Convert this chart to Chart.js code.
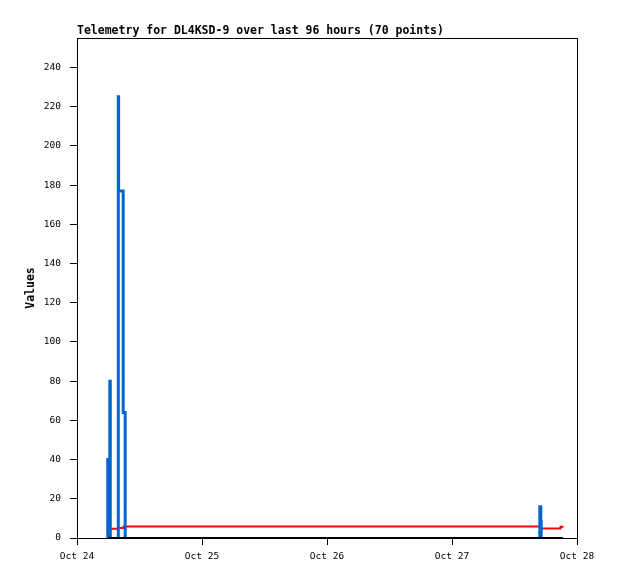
<!DOCTYPE html>
<html>
<head>
<meta charset="utf-8">
<script src="https://cdn.jsdelivr.net/npm/chart.js@4.4.1/dist/chart.umd.min.js"></script>
<style>
  html, body { margin: 0; padding: 0; background: #fff; }
  #wrap { width: 618px; height: 579px; }
</style>
</head>
<body>
<div id="wrap"><canvas id="telemetryChart" width="618" height="579"></canvas></div>
<script>
// Telemetry for DL4KSD-9 - x is hours since Oct 24 00:00

const xTickHours = [0, 24, 48, 72, 96];
const xTickLabels = ['Oct 24', 'Oct 25', 'Oct 26', 'Oct 27', 'Oct 28'];
const yTickValues = [0, 20, 40, 60, 80, 100, 120, 140, 160, 180, 200, 220, 240];

// blue channel (null = gap between bursts)
const blueHours = [5.86, 5.91, 6.30, 6.39, 6.39, 7.83, 7.93, 7.99, 8.87, 9.25, 9.25, 88.80, 88.86, 89.05, 89.13];
const blueValues = [0, 40, 80, 0, null, 0, 225, 177, 64, 0, null, 0, 16, 8, 0];

// red channel
const redHours = [5.95, 7.93, 8.93, 88.99, 92.83, 93.41];
const redValues = [4.75, 5.1, 5.9, 4.8, 5.7, 5.7];

// black channel
const blackHours = [5.95, 93.31];
const blackValues = [0, 0];

const monoFont = "'DejaVu Sans Mono', 'Liberation Mono', monospace";

function toPoints(hours, values) {
    return hours.map((h, i) => ({ x: h, y: values[i] }));
}

const ctx = document.getElementById('telemetryChart').getContext('2d');

new Chart(ctx, {
    type: 'line',
    data: {
        datasets: [
            {
                label: 'black',
                data: toPoints(blackHours, blackValues),
                borderColor: '#000000',
                borderWidth: 2,
                pointRadius: 0,
                stepped: true,
                clip: 4,
                order: 0
            },
            {
                label: 'blue',
                data: toPoints(blueHours, blueValues),
                borderColor: '#0066cc',
                borderWidth: 3,
                pointRadius: 0,
                stepped: true,
                spanGaps: false,
                order: 1
            },
            {
                label: 'red',
                data: toPoints(redHours, redValues),
                borderColor: '#ff0000',
                borderWidth: 2,
                pointRadius: 0,
                stepped: true,
                order: 2
            }
        ]
    },
    options: {
        responsive: false,
        animation: false,
        layout: { padding: 0 },
        plugins: {
            legend: { display: false },
            tooltip: { enabled: false },
            title: {
                display: true,
                text: 'Telemetry for DL4KSD-9 over last 96 hours (70 points)',
                align: 'start',
                fullSize: false,
                color: '#000',
                font: { family: monoFont, size: 11.5, weight: 'bold', lineHeight: 1.2 },
                padding: { top: 24, bottom: 0.2 }
            }
        },
        scales: {
            x: {
                type: 'linear',
                position: 'bottom',
                min: 0,
                max: 96,
                afterBuildTicks: s => { s.ticks = xTickHours.map(v => ({ value: v })); },
                afterFit: s => { s.height = 41; },
                ticks: {
                    callback: v => xTickLabels[xTickHours.indexOf(v)],
                    color: '#000',
                    font: { family: monoFont, size: 9.5 },
                    padding: 6,
                    maxRotation: 0,
                    autoSkip: false
                },
                grid: { drawOnChartArea: false, tickLength: 7, tickColor: '#000' },
                border: { color: '#000', width: 1 }
            },
            x2: {
                type: 'linear',
                position: 'top',
                min: 0,
                max: 96,
                afterFit: s => { s.height = 0; },
                ticks: { display: false },
                grid: { drawOnChartArea: false, drawTicks: false },
                border: { color: '#000', width: 1 }
            },
            y: {
                type: 'linear',
                position: 'left',
                min: 0,
                max: 255,
                afterBuildTicks: s => { s.ticks = yTickValues.map(v => ({ value: v })); },
                afterFit: s => { s.width = 77; },
                ticks: {
                    color: '#000',
                    font: { family: monoFont, size: 9.5 },
                    padding: 9
                },
                grid: { drawOnChartArea: false, tickLength: 7, tickColor: '#000' },
                border: { color: '#000', width: 1 },
                title: {
                    display: true,
                    text: 'Values',
                    color: '#000',
                    font: { family: monoFont, size: 11.5, weight: 'bold', lineHeight: 1.2 },
                    padding: { top: 24, bottom: 0 }
                }
            },
            y2: {
                type: 'linear',
                position: 'right',
                min: 0,
                max: 255,
                afterFit: s => { s.width = 41; },
                ticks: { display: false },
                grid: { drawOnChartArea: false, drawTicks: false },
                border: { color: '#000', width: 1 }
            }
        }
    }
});
</script>
</body>
</html>
